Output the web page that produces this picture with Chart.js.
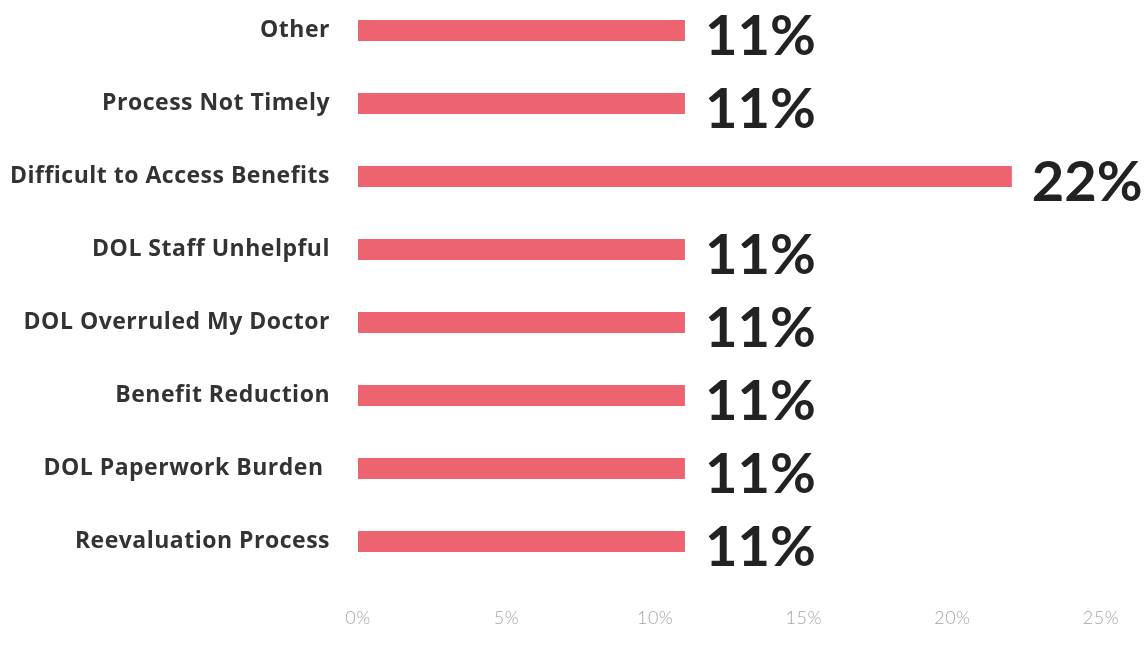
<!DOCTYPE html>
<html>
<head>
<meta charset="utf-8">
<script src="https://cdn.jsdelivr.net/npm/chart.js@4"></script>
<style>
  html, body { margin: 0; padding: 0; background: #fff; overflow: hidden; }
  #wrap { position: absolute; left: 0; top: -6px; width: 1146px; height: 657px; }
</style>
</head>
<body>
<div id="wrap"><canvas id="chart"></canvas></div>
<script>
// reasons for dissatisfaction, share of respondents
const reasons = [
  "Other",
  "Process Not Timely",
  "Difficult to Access Benefits",
  "DOL Staff Unhelpful",
  "DOL Overruled My Doctor",
  "Benefit Reduction",
  "DOL Paperwork Burden ",
  "Reevaluation Process"
];
const shares = [11, 11, 22, 11, 11, 11, 11, 11];
const xTicks = [0, 5, 10, 15, 20, 25];

const barColor = "rgb(238, 99, 112)";

// a little tracking on the axis text
const spacing = {
  id: "spacing",
  beforeDraw(chart) { chart.ctx.letterSpacing = "0.5px"; },
  afterDraw(chart) { chart.ctx.letterSpacing = "0px"; }
};

// big value labels to the right of each bar
const valueLabels = {
  id: "valueLabels",
  afterDatasetsDraw(chart) {
    const ctx = chart.ctx;
    const meta = chart.getDatasetMeta(0);
    ctx.save();
    ctx.letterSpacing = "0px";
    ctx.font = "bold 56px Lato";
    ctx.fillStyle = "#222";
    ctx.textAlign = "left";
    ctx.textBaseline = "middle";
    meta.data.forEach((bar, i) => {
      ctx.fillText(shares[i] + "%", bar.x + 20, bar.y + 6);
    });
    ctx.restore();
  }
};

const chart = new Chart(document.getElementById("chart"), {
  type: "bar",
  data: {
    labels: reasons,
    datasets: [{
      data: shares,
      backgroundColor: barColor,
      borderWidth: 0,
      barPercentage: 0.58,
      categoryPercentage: 0.5
    }]
  },
  options: {
    indexAxis: "y",
    responsive: true,
    maintainAspectRatio: false,
    animation: false,
    layout: { padding: { left: 0, right: 45, top: 0, bottom: 0 } },
    plugins: {
      legend: { display: false },
      tooltip: { enabled: false }
    },
    scales: {
      x: {
        min: 0,
        max: 25,
        afterBuildTicks(scale) {
          scale.ticks = xTicks.map(v => ({ value: v }));
        },
        afterFit(scale) {
          scale.height = 73;
          scale.paddingLeft = 0;
          scale.paddingRight = 0;
        },
        grid: { display: false, drawTicks: false },
        border: { display: false },
        ticks: {
          padding: 29,
          color: "#a4a4a4",
          font: { family: "Lato", size: 18, weight: "300" },
          callback: v => v + "%"
        }
      },
      y: {
        afterFit(scale) {
          scale.width = 358;
          scale.paddingTop = 0;
          scale.paddingBottom = 0;
        },
        grid: { display: false, drawTicks: false },
        border: { display: false },
        ticks: {
          padding: 28,
          color: "#333",
          font: { family: "Open Sans", size: 23, weight: "bold" }
        }
      }
    }
  },
  plugins: [spacing, valueLabels]
});
</script>
</body>
</html>
